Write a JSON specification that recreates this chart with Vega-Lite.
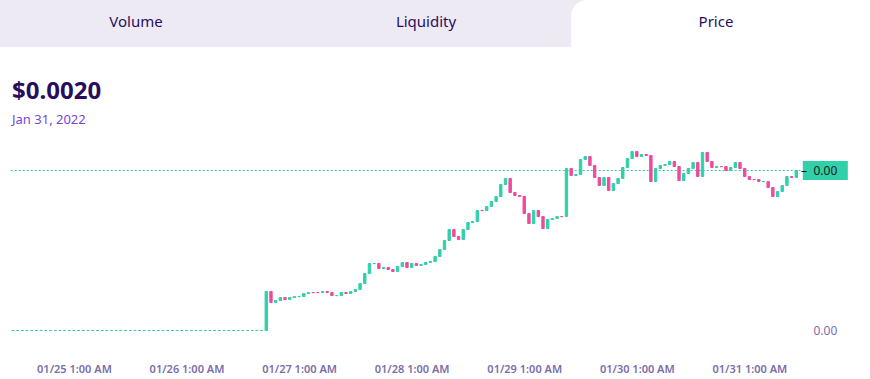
{
  "$schema": "https://vega.github.io/schema/vega-lite/v6.json",
  "padding": 0,
  "spacing": 33,
  "background": "#ffffff",
  "config": {
    "font": "Noto Sans",
    "view": {"stroke": null},
    "title": {"font": "Noto Sans"},
    "axis": {"labelFont": "Noto Sans"}
  },
  "vconcat": [
    {
      "width": 870,
      "height": 47,
      "data": {"values": [
        {"tab": "Volume", "i": 0, "selected": false},
        {"tab": "Liquidity", "i": 1, "selected": false},
        {"tab": "Price", "i": 2, "selected": true}
      ]},
      "transform": [
        {"calculate": "datum.i + 1", "as": "i2"},
        {"calculate": "datum.i + 0.5", "as": "mid"}
      ],
      "layer": [
        {
          "transform": [{"filter": "!datum.selected"}],
          "mark": {"type": "rect", "color": "#EEEAF4", "x2Offset": 20, "clip": true},
          "encoding": {
            "x": {"field": "i", "type": "quantitative", "scale": {"domain": [0.031, 3.031], "nice": false, "zero": false, "padding": 0}, "axis": null},
            "x2": {"field": "i2"}
          }
        },
        {
          "transform": [{"filter": "datum.selected"}],
          "mark": {"type": "rect", "color": "#FFFFFF", "cornerRadiusTopLeft": 16, "cornerRadiusTopRight": 16, "clip": true},
          "encoding": {
            "x": {"field": "i", "type": "quantitative", "scale": {"domain": [0.031, 3.031], "nice": false, "zero": false, "padding": 0}, "axis": null},
            "x2": {"field": "i2"}
          }
        },
        {
          "mark": {"type": "text", "fontSize": 15, "color": "#280D5F", "dy": -2, "baseline": "middle"},
          "encoding": {
            "x": {"field": "mid", "type": "quantitative", "scale": {"domain": [0.031, 3.031], "nice": false, "zero": false, "padding": 0}, "axis": null},
            "text": {"field": "tab"}
          }
        }
      ]
    },
    {
      "width": 801,
      "height": 210,
      "title": {
        "text": "$0.0020",
        "subtitle": "Jan 31, 2022",
        "anchor": "start",
        "frame": "group",
        "dx": 12,
        "fontSize": 24,
        "fontWeight": "bold",
        "color": "#280D5F",
        "subtitleColor": "#7645D9",
        "subtitleFontSize": 13,
        "subtitlePadding": 10,
        "offset": 13
      },
      "layer": [
        {
          "data": {"values": [{"from": "2022-01-24T11:30", "to": "2022-01-31T12:00", "price": 0.002}]},
          "mark": {"type": "rule", "color": "#31D0AA", "strokeDash": [2, 2], "strokeWidth": 1},
          "encoding": {
            "x": {"field": "from", "type": "temporal", "scale": {"domain": [{"year": 2022, "month": 1, "date": 24, "hours": 9, "minutes": 14}, {"year": 2022, "month": 1, "date": 31, "hours": 12}], "nice": false, "padding": 0}},
            "x2": {"field": "to"},
            "y": {"field": "price", "type": "quantitative", "scale": {"domain": [0.000205, 0.002305], "nice": false, "zero": false, "padding": 0}}
          }
        },
        {
          "data": {"values": [
            {"t": "2022-01-24T12:00", "o": 0.0004, "c": 0.0004},
            {"t": "2022-01-24T13:00", "o": 0.0004, "c": 0.0004},
            {"t": "2022-01-24T14:00", "o": 0.0004, "c": 0.0004},
            {"t": "2022-01-24T15:00", "o": 0.0004, "c": 0.0004},
            {"t": "2022-01-24T16:00", "o": 0.0004, "c": 0.0004},
            {"t": "2022-01-24T17:00", "o": 0.0004, "c": 0.0004},
            {"t": "2022-01-24T18:00", "o": 0.0004, "c": 0.0004},
            {"t": "2022-01-24T19:00", "o": 0.0004, "c": 0.0004},
            {"t": "2022-01-24T20:00", "o": 0.0004, "c": 0.0004},
            {"t": "2022-01-24T21:00", "o": 0.0004, "c": 0.0004},
            {"t": "2022-01-24T22:00", "o": 0.0004, "c": 0.0004},
            {"t": "2022-01-24T23:00", "o": 0.0004, "c": 0.0004},
            {"t": "2022-01-25T00:00", "o": 0.0004, "c": 0.0004},
            {"t": "2022-01-25T01:00", "o": 0.0004, "c": 0.0004},
            {"t": "2022-01-25T02:00", "o": 0.0004, "c": 0.0004},
            {"t": "2022-01-25T03:00", "o": 0.0004, "c": 0.0004},
            {"t": "2022-01-25T04:00", "o": 0.0004, "c": 0.0004},
            {"t": "2022-01-25T05:00", "o": 0.0004, "c": 0.0004},
            {"t": "2022-01-25T06:00", "o": 0.0004, "c": 0.0004},
            {"t": "2022-01-25T07:00", "o": 0.0004, "c": 0.0004},
            {"t": "2022-01-25T08:00", "o": 0.0004, "c": 0.0004},
            {"t": "2022-01-25T09:00", "o": 0.0004, "c": 0.0004},
            {"t": "2022-01-25T10:00", "o": 0.0004, "c": 0.0004},
            {"t": "2022-01-25T11:00", "o": 0.0004, "c": 0.0004},
            {"t": "2022-01-25T12:00", "o": 0.0004, "c": 0.0004},
            {"t": "2022-01-25T13:00", "o": 0.0004, "c": 0.0004},
            {"t": "2022-01-25T14:00", "o": 0.0004, "c": 0.0004},
            {"t": "2022-01-25T15:00", "o": 0.0004, "c": 0.0004},
            {"t": "2022-01-25T16:00", "o": 0.0004, "c": 0.0004},
            {"t": "2022-01-25T17:00", "o": 0.0004, "c": 0.0004},
            {"t": "2022-01-25T18:00", "o": 0.0004, "c": 0.0004},
            {"t": "2022-01-25T19:00", "o": 0.0004, "c": 0.0004},
            {"t": "2022-01-25T20:00", "o": 0.0004, "c": 0.0004},
            {"t": "2022-01-25T21:00", "o": 0.0004, "c": 0.0004},
            {"t": "2022-01-25T22:00", "o": 0.0004, "c": 0.0004},
            {"t": "2022-01-25T23:00", "o": 0.0004, "c": 0.0004},
            {"t": "2022-01-26T00:00", "o": 0.0004, "c": 0.0004},
            {"t": "2022-01-26T01:00", "o": 0.0004, "c": 0.0004},
            {"t": "2022-01-26T02:00", "o": 0.0004, "c": 0.0004},
            {"t": "2022-01-26T03:00", "o": 0.0004, "c": 0.0004},
            {"t": "2022-01-26T04:00", "o": 0.0004, "c": 0.0004},
            {"t": "2022-01-26T05:00", "o": 0.0004, "c": 0.0004},
            {"t": "2022-01-26T06:00", "o": 0.0004, "c": 0.0004},
            {"t": "2022-01-26T07:00", "o": 0.0004, "c": 0.0004},
            {"t": "2022-01-26T08:00", "o": 0.0004, "c": 0.0004},
            {"t": "2022-01-26T09:00", "o": 0.0004, "c": 0.0004},
            {"t": "2022-01-26T10:00", "o": 0.0004, "c": 0.0004},
            {"t": "2022-01-26T11:00", "o": 0.0004, "c": 0.0004},
            {"t": "2022-01-26T12:00", "o": 0.0004, "c": 0.0004},
            {"t": "2022-01-26T13:00", "o": 0.0004, "c": 0.0004},
            {"t": "2022-01-26T14:00", "o": 0.0004, "c": 0.0004},
            {"t": "2022-01-26T15:00", "o": 0.0004, "c": 0.0004},
            {"t": "2022-01-26T16:00", "o": 0.0004, "c": 0.0004},
            {"t": "2022-01-26T17:00", "o": 0.0004, "c": 0.0004},
            {"t": "2022-01-26T18:00", "o": 0.0004, "c": 0.00079},
            {"t": "2022-01-26T19:00", "o": 0.00079, "c": 0.00068},
            {"t": "2022-01-26T20:00", "o": 0.00068, "c": 0.0007},
            {"t": "2022-01-26T21:00", "o": 0.0007, "c": 0.00073},
            {"t": "2022-01-26T22:00", "o": 0.00073, "c": 0.00071},
            {"t": "2022-01-26T23:00", "o": 0.00071, "c": 0.00073},
            {"t": "2022-01-27T00:00", "o": 0.00073, "c": 0.00074},
            {"t": "2022-01-27T01:00", "o": 0.000738, "c": 0.00074},
            {"t": "2022-01-27T02:00", "o": 0.00074, "c": 0.00077},
            {"t": "2022-01-27T03:00", "o": 0.00077, "c": 0.00078},
            {"t": "2022-01-27T04:00", "o": 0.00078, "c": 0.000778},
            {"t": "2022-01-27T05:00", "o": 0.00078, "c": 0.000778},
            {"t": "2022-01-27T06:00", "o": 0.00078, "c": 0.00079},
            {"t": "2022-01-27T07:00", "o": 0.00079, "c": 0.00078},
            {"t": "2022-01-27T08:00", "o": 0.00078, "c": 0.00075},
            {"t": "2022-01-27T09:00", "o": 0.000748, "c": 0.00075},
            {"t": "2022-01-27T10:00", "o": 0.00075, "c": 0.00078},
            {"t": "2022-01-27T11:00", "o": 0.00078, "c": 0.00077},
            {"t": "2022-01-27T12:00", "o": 0.00077, "c": 0.00079},
            {"t": "2022-01-27T13:00", "o": 0.00079, "c": 0.00081},
            {"t": "2022-01-27T14:00", "o": 0.00081, "c": 0.00087},
            {"t": "2022-01-27T15:00", "o": 0.00087, "c": 0.00097},
            {"t": "2022-01-27T16:00", "o": 0.00097, "c": 0.00107},
            {"t": "2022-01-27T17:00", "o": 0.001068, "c": 0.00107},
            {"t": "2022-01-27T18:00", "o": 0.00107, "c": 0.00102},
            {"t": "2022-01-27T19:00", "o": 0.00102, "c": 0.00103},
            {"t": "2022-01-27T20:00", "o": 0.00103, "c": 0.00101},
            {"t": "2022-01-27T21:00", "o": 0.00101, "c": 0.00099},
            {"t": "2022-01-27T22:00", "o": 0.00099, "c": 0.00104},
            {"t": "2022-01-27T23:00", "o": 0.00104, "c": 0.00108},
            {"t": "2022-01-28T00:00", "o": 0.00108, "c": 0.00103},
            {"t": "2022-01-28T01:00", "o": 0.00103, "c": 0.00107},
            {"t": "2022-01-28T02:00", "o": 0.00107, "c": 0.00105},
            {"t": "2022-01-28T03:00", "o": 0.00105, "c": 0.00106},
            {"t": "2022-01-28T04:00", "o": 0.00106, "c": 0.00108},
            {"t": "2022-01-28T05:00", "o": 0.00108, "c": 0.00109},
            {"t": "2022-01-28T06:00", "o": 0.00109, "c": 0.00114},
            {"t": "2022-01-28T07:00", "o": 0.00114, "c": 0.00121},
            {"t": "2022-01-28T08:00", "o": 0.00121, "c": 0.0013},
            {"t": "2022-01-28T09:00", "o": 0.0013, "c": 0.00141},
            {"t": "2022-01-28T10:00", "o": 0.00141, "c": 0.00134},
            {"t": "2022-01-28T11:00", "o": 0.00134, "c": 0.00131},
            {"t": "2022-01-28T12:00", "o": 0.00131, "c": 0.00141},
            {"t": "2022-01-28T13:00", "o": 0.00141, "c": 0.00148},
            {"t": "2022-01-28T14:00", "o": 0.00148, "c": 0.00149},
            {"t": "2022-01-28T15:00", "o": 0.00149, "c": 0.0016},
            {"t": "2022-01-28T16:00", "o": 0.0016, "c": 0.001598},
            {"t": "2022-01-28T17:00", "o": 0.0016, "c": 0.00164},
            {"t": "2022-01-28T18:00", "o": 0.00164, "c": 0.00169},
            {"t": "2022-01-28T19:00", "o": 0.00169, "c": 0.00174},
            {"t": "2022-01-28T20:00", "o": 0.00174, "c": 0.00186},
            {"t": "2022-01-28T21:00", "o": 0.00186, "c": 0.00192},
            {"t": "2022-01-28T22:00", "o": 0.00192, "c": 0.00178},
            {"t": "2022-01-28T23:00", "o": 0.00178, "c": 0.00175},
            {"t": "2022-01-29T00:00", "o": 0.00175, "c": 0.00174},
            {"t": "2022-01-29T01:00", "o": 0.00174, "c": 0.00157},
            {"t": "2022-01-29T02:00", "o": 0.00157, "c": 0.00147},
            {"t": "2022-01-29T03:00", "o": 0.00147, "c": 0.0016},
            {"t": "2022-01-29T04:00", "o": 0.0016, "c": 0.00154},
            {"t": "2022-01-29T05:00", "o": 0.00154, "c": 0.00142},
            {"t": "2022-01-29T06:00", "o": 0.00142, "c": 0.00151},
            {"t": "2022-01-29T07:00", "o": 0.00151, "c": 0.00152},
            {"t": "2022-01-29T08:00", "o": 0.00152, "c": 0.00154},
            {"t": "2022-01-29T09:00", "o": 0.00154, "c": 0.001538},
            {"t": "2022-01-29T10:00", "o": 0.00154, "c": 0.00202},
            {"t": "2022-01-29T11:00", "o": 0.00202, "c": 0.00195},
            {"t": "2022-01-29T12:00", "o": 0.00195, "c": 0.00196},
            {"t": "2022-01-29T13:00", "o": 0.00196, "c": 0.00211},
            {"t": "2022-01-29T14:00", "o": 0.00211, "c": 0.00214},
            {"t": "2022-01-29T15:00", "o": 0.00214, "c": 0.00205},
            {"t": "2022-01-29T16:00", "o": 0.00205, "c": 0.00193},
            {"t": "2022-01-29T17:00", "o": 0.00193, "c": 0.00185},
            {"t": "2022-01-29T18:00", "o": 0.00185, "c": 0.00193},
            {"t": "2022-01-29T19:00", "o": 0.00193, "c": 0.0018},
            {"t": "2022-01-29T20:00", "o": 0.0018, "c": 0.00187},
            {"t": "2022-01-29T21:00", "o": 0.00187, "c": 0.00192},
            {"t": "2022-01-29T22:00", "o": 0.00192, "c": 0.00203},
            {"t": "2022-01-29T23:00", "o": 0.00203, "c": 0.00212},
            {"t": "2022-01-30T00:00", "o": 0.00212, "c": 0.00219},
            {"t": "2022-01-30T01:00", "o": 0.00219, "c": 0.00214},
            {"t": "2022-01-30T02:00", "o": 0.00214, "c": 0.00216},
            {"t": "2022-01-30T03:00", "o": 0.00216, "c": 0.00215},
            {"t": "2022-01-30T04:00", "o": 0.00215, "c": 0.00189},
            {"t": "2022-01-30T05:00", "o": 0.00189, "c": 0.00202},
            {"t": "2022-01-30T06:00", "o": 0.00202, "c": 0.00205},
            {"t": "2022-01-30T07:00", "o": 0.00205, "c": 0.00206},
            {"t": "2022-01-30T08:00", "o": 0.00206, "c": 0.00209},
            {"t": "2022-01-30T09:00", "o": 0.00209, "c": 0.00204},
            {"t": "2022-01-30T10:00", "o": 0.00204, "c": 0.0019},
            {"t": "2022-01-30T11:00", "o": 0.0019, "c": 0.00197},
            {"t": "2022-01-30T12:00", "o": 0.00197, "c": 0.00202},
            {"t": "2022-01-30T13:00", "o": 0.00202, "c": 0.00208},
            {"t": "2022-01-30T14:00", "o": 0.00208, "c": 0.00194},
            {"t": "2022-01-30T15:00", "o": 0.00194, "c": 0.00218},
            {"t": "2022-01-30T16:00", "o": 0.00218, "c": 0.00209},
            {"t": "2022-01-30T17:00", "o": 0.00209, "c": 0.00203},
            {"t": "2022-01-30T18:00", "o": 0.00203, "c": 0.00204},
            {"t": "2022-01-30T19:00", "o": 0.00204, "c": 0.002038},
            {"t": "2022-01-30T20:00", "o": 0.00204, "c": 0.002},
            {"t": "2022-01-30T21:00", "o": 0.002, "c": 0.00203},
            {"t": "2022-01-30T22:00", "o": 0.00203, "c": 0.00208},
            {"t": "2022-01-30T23:00", "o": 0.00208, "c": 0.00202},
            {"t": "2022-01-31T00:00", "o": 0.00202, "c": 0.00194},
            {"t": "2022-01-31T01:00", "o": 0.00194, "c": 0.00191},
            {"t": "2022-01-31T02:00", "o": 0.00191, "c": 0.001908},
            {"t": "2022-01-31T03:00", "o": 0.00191, "c": 0.00189},
            {"t": "2022-01-31T04:00", "o": 0.001888, "c": 0.00189},
            {"t": "2022-01-31T05:00", "o": 0.00189, "c": 0.00183},
            {"t": "2022-01-31T06:00", "o": 0.00183, "c": 0.00174},
            {"t": "2022-01-31T07:00", "o": 0.00174, "c": 0.00179},
            {"t": "2022-01-31T08:00", "o": 0.00179, "c": 0.00185},
            {"t": "2022-01-31T09:00", "o": 0.00185, "c": 0.00194},
            {"t": "2022-01-31T10:00", "o": 0.00194, "c": 0.00193},
            {"t": "2022-01-31T11:00", "o": 0.00193, "c": 0.002}
          ]},
          "transform": [{"calculate": "datum.c >= datum.o ? 'up' : 'down'", "as": "dir"}],
          "mark": {"type": "bar", "width": 2.4, "strokeWidth": 1},
          "encoding": {
            "x": {
              "field": "t", "type": "temporal",
              "scale": {"domain": [{"year": 2022, "month": 1, "date": 24, "hours": 9, "minutes": 14}, {"year": 2022, "month": 1, "date": 31, "hours": 12}], "nice": false, "padding": 0},
              "axis": {
                "values": [
                  {"year": 2022, "month": 1, "date": 25, "hours": 1},
                  {"year": 2022, "month": 1, "date": 26, "hours": 1},
                  {"year": 2022, "month": 1, "date": 27, "hours": 1},
                  {"year": 2022, "month": 1, "date": 28, "hours": 1},
                  {"year": 2022, "month": 1, "date": 29, "hours": 1},
                  {"year": 2022, "month": 1, "date": 30, "hours": 1},
                  {"year": 2022, "month": 1, "date": 31, "hours": 1}
                ],
                "format": "%m/%d %-I:%M %p",
                "title": null,
                "grid": false,
                "domain": false,
                "ticks": false,
                "labelPadding": 13,
                "labelFontSize": 11,
                "labelFontWeight": 600,
                "labelColor": "#7A6EAA",
                "labelOverlap": false,
                "labelFlush": false
              }
            },
            "y": {
              "field": "o", "type": "quantitative",
              "scale": {"domain": [0.000205, 0.002305], "nice": false, "zero": false, "padding": 0},
              "axis": {
                "orient": "right",
                "values": [0.0004, 0.002],
                "format": ".2f",
                "title": null,
                "grid": false,
                "domain": false,
                "tickSize": 5,
                "tickColor": {"condition": {"test": "datum.value > 0.001", "value": "#000000"}, "value": "transparent"},
                "labelColor": {"condition": {"test": "datum.value > 0.001", "value": "#1A1A1A"}, "value": "#7A6EAA"},
                "labelPadding": 7,
                "labelFontSize": 12,
                "zindex": 1
              }
            },
            "y2": {"field": "c"},
            "color": {"field": "dir", "type": "nominal", "scale": {"domain": ["up", "down"], "range": ["#31D0AA", "#ED4B9E"]}, "legend": null},
            "stroke": {"field": "dir", "type": "nominal", "scale": {"domain": ["up", "down"], "range": ["#31D0AA", "#ED4B9E"]}, "legend": null}
          }
        },
        {
          "data": {"values": [{"t": "2022-01-31T11:00", "price": 0.002}]},
          "mark": {"type": "rect", "width": 45, "height": 19, "xOffset": 29, "color": "#31D0AA"},
          "encoding": {
            "x": {"field": "t", "type": "temporal"},
            "y": {"field": "price", "type": "quantitative"}
          }
        }
      ]
    }
  ]
}
